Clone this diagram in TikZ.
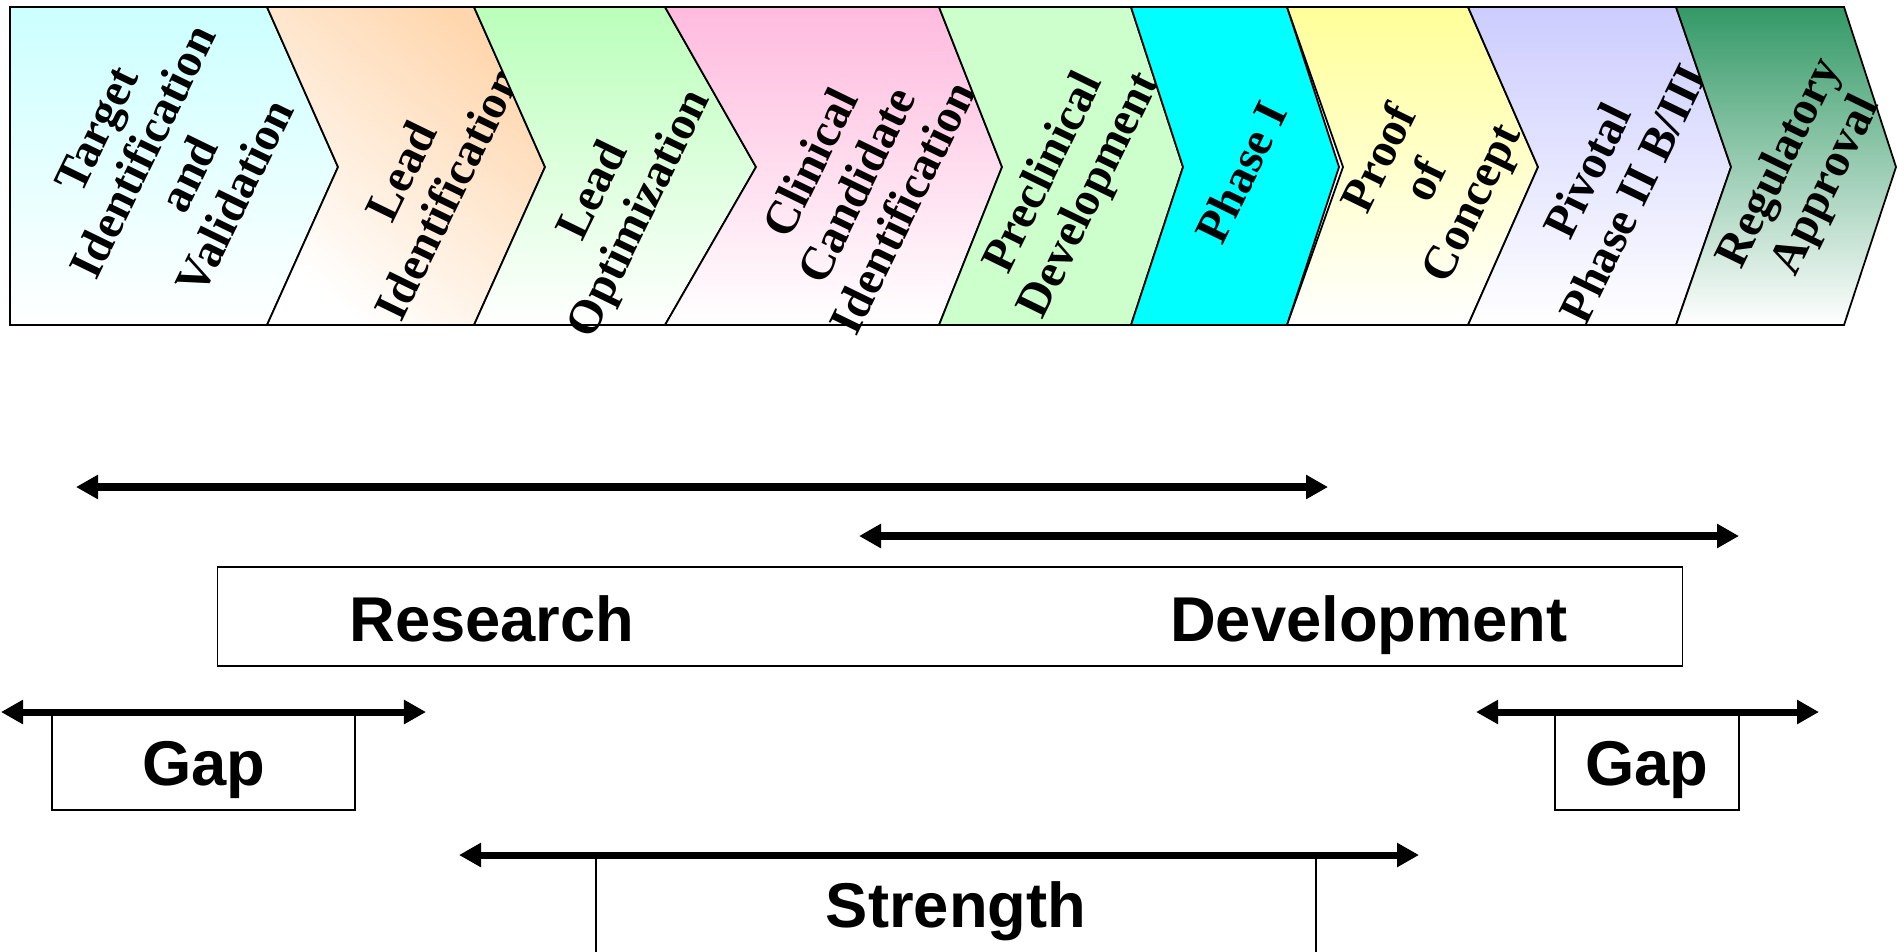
\documentclass[tikz,border=0pt]{standalone}
\usepackage{fontspec}
\newfontfamily\barfont{Liberation Sans}
\newfontfamily\stagefont{Liberation Serif}
\usetikzlibrary{arrows.meta}
\definecolor{target-cyan}{rgb}{0.8, 1, 1}
\definecolor{lead-peach}{rgb}{1, 0.84, 0.68}
\definecolor{opt-green}{rgb}{0.73, 1, 0.73}
\definecolor{cand-pink}{rgb}{1, 0.73, 0.87}
\definecolor{precl-green}{rgb}{0.8, 1, 0.8}
\definecolor{phase-cyan}{rgb}{0, 1, 1}
\definecolor{poc-yellow}{rgb}{1, 1, 0.6}
\definecolor{pivot-lavender}{rgb}{0.8, 0.8, 1}
\definecolor{reg-green}{rgb}{0.2, 0.6, 0.4}

\begin{document}
\begin{tikzpicture}[x=0.01cm, y=-0.01cm,
		chev/.style={draw=black, line width=0.5pt},
		stage/.style={rotate=64, align=center, inner sep=0pt, font=\stagefont\fontsize{13.5}{14.6}\selectfont\bfseries},
		frame/.style={draw=black, line width=0.45pt, inner sep=0pt},
		lbl/.style={anchor=base, inner sep=0pt, font=\barfont\fontsize{18}{21}\selectfont\bfseries},
		span/.style={line width=2pt, <->, >={Triangle[length=2.2mm, width=2.3mm]}}
	]
	\useasboundingbox (0,0) rectangle (1898,951);

	% stages
	\draw[chev, top color=target-cyan, bottom color=white] (10,7) -- (267,7) -- (338,167) -- (267,325) -- (10,325) -- cycle;
	\node[stage] (tiv) at (166,163) {Target\\Identification\\and\\Validation};

	\draw[chev, top color=lead-peach, bottom color=white, shading angle=-40] (267,7) -- (474,7) -- (545,167) -- (474,325) -- (267,325) -- (338,167) -- cycle;
	\node[stage] (leadid) at (424,182) {Lead\\Identification};

	\draw[chev, top color=opt-green, bottom color=white] (474,7) -- (665,7) -- (756,167) -- (665,325) -- (474,325) -- (545,167) -- cycle;
	\node[stage] (leadopt) at (618,203) {Lead\\Optimization};

	\draw[chev, top color=cand-pink, bottom color=white] (665,7) -- (939,7) -- (1002,167) -- (939,325) -- (665,325) -- (756,167) -- cycle;
	\node[stage] (ccid) at (856,185) {Clinical\\Candidate\\Identification};

	\draw[chev, fill=precl-green] (939,7) -- (1131,7) -- (1183,167) -- (1131,325) -- (939,325) -- (1002,167) -- cycle;
	\node[stage] (precl) at (1068,185) {Preclinical\\Development};

	\draw[chev, fill=phase-cyan] (1131,7) -- (1287,7) -- (1339,167) -- (1287,325) -- (1131,325) -- (1183,167) -- cycle;
	\node[stage] (phone) at (1241,172) {Phase I};

	\draw[chev, top color=poc-yellow, bottom color=white] (1287,7) -- (1468,7) -- (1538,167) -- (1468,325) -- (1287,325) -- (1343,167) -- cycle;
	\node[stage] (poc) at (1428,182) {Proof\\of\\Concept};

	\draw[chev, top color=pivot-lavender, bottom color=white] (1468,7) -- (1676,7) -- (1731,167) -- (1676,325) -- (1468,325) -- (1538,167) -- cycle;
	\node[stage] (pivot) at (1610,182) {Pivotal\\Phase II B/III};

	\draw[chev, top color=reg-green, bottom color=white] (1676,7) -- (1844,7) -- (1896,167) -- (1844,325) -- (1676,325) -- (1731,167) -- cycle;
	\node[stage] (regappr) at (1804,175) {Regulatory\\Approval};

	% boxes
	\node[frame, minimum width=14.64cm, minimum height=0.99cm] (rdbox) at (950,616.5) {};
	\node[lbl] (research) at (492,641) {Research};
	\node[lbl] (develop) at (1369,641) {Development};

	\node[frame, minimum width=3.03cm, minimum height=0.98cm] (gapleft) at (203.5,761) {};
	\node[lbl] (gaplefttxt) at (204,785) {Gap};
	\node[frame, minimum width=1.84cm, minimum height=0.98cm] (gapright) at (1647,761) {};
	\node[lbl] (gaprighttxt) at (1647,785) {Gap};

	\node[frame, minimum width=7.2cm, minimum height=2cm] (strbox) at (956,955) {};
	\node[lbl] (strength) at (956,927) {Strength};

	% spans
	\coordinate (resA) at (76,487);
	\coordinate (resB) at (1328,487);
	\coordinate (devA) at (859,536);
	\coordinate (devB) at (1739,536);
	\coordinate (gapLA) at (1,712);
	\coordinate (gapLB) at (426,712);
	\coordinate (gapRA) at (1476,712);
	\coordinate (gapRB) at (1819,712);
	\coordinate (strA) at (459,855);
	\coordinate (strB) at (1419,855);
	\draw[span] (resA) -- (resB);
	\draw[span] (devA) -- (devB);
	\draw[span] (gapLA) -- (gapLB);
	\draw[span] (gapRA) -- (gapRB);
	\draw[span] (strA) -- (strB);

\end{tikzpicture}
\end{document}
